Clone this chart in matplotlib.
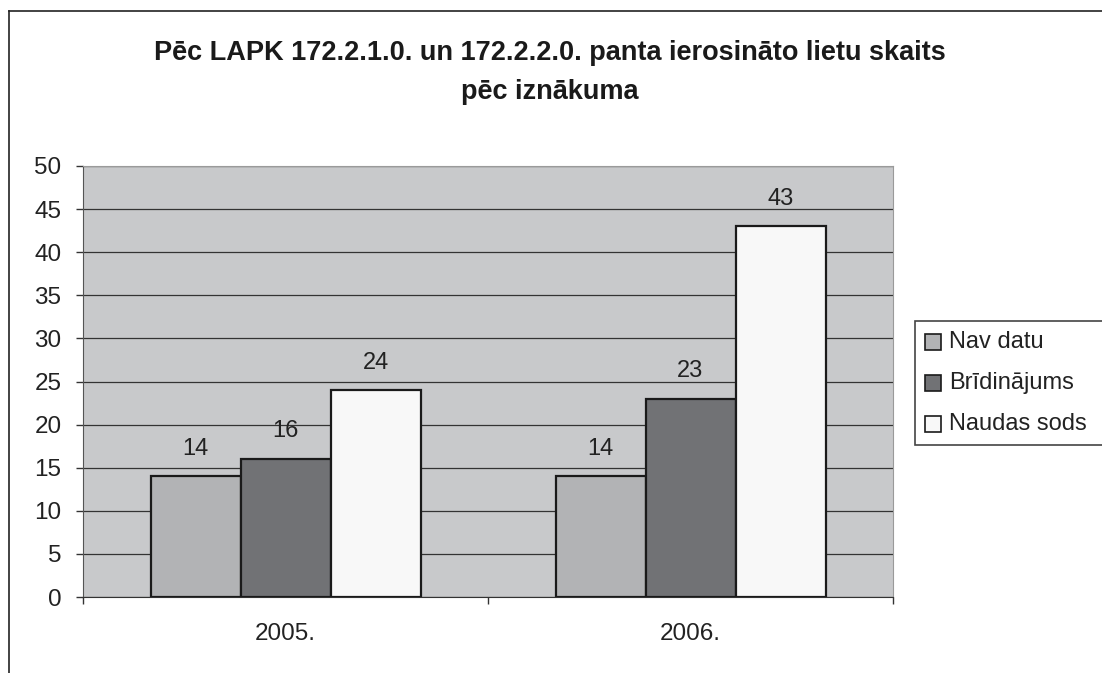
import matplotlib
matplotlib.use("Agg")
import matplotlib.pyplot as plt
import numpy as np
from matplotlib.lines import Line2D
from matplotlib.patches import Rectangle

plt.rcParams['font.family'] = ['Liberation Sans', 'DejaVu Sans']

categories = ["2005.", "2006."]
series_names = ["Nav datu", "Brīdinājums", "Naudas sods"]
values = {
    "Nav datu": [14, 14],
    "Brīdinājums": [16, 23],
    "Naudas sods": [24, 43],
}
colors = ["#B2B3B5", "#717275", "#F8F8F8"]
title = "Pēc LAPK 172.2.1.0. un 172.2.2.0. panta ierosināto lietu skaits\npēc iznākuma"

W, H = 1102, 673
fig = plt.figure(figsize=(W/100, H/100), dpi=100)
ax = fig.add_axes([83/W, 1-597/H, (893-83)/W, (597-166)/H])
ax.set_facecolor("#C8C9CB")

w = 1/4.5
x = np.arange(len(categories))
for i, name in enumerate(series_names):
    pos = x + (i - 1) * w
    ax.bar(pos, values[name], width=w, color=colors[i], edgecolor="#1a1a1a",
           linewidth=1.6, label=name, zorder=3)
    for p, v in zip(pos, values[name]):
        ax.text(p, v + 3.2, str(v), ha="center", va="center", fontsize=17, color="#222222")

ax.set_xlim(-0.5, 1.5)
ax.set_ylim(0, 50)
ax.set_yticks(range(0, 51, 5))
ax.yaxis.grid(True, color="#333333", linewidth=0.9, zorder=0)
ax.set_axisbelow(True)
for s in ["top", "right"]:
    ax.spines[s].set_color("#9a9a9a")
ax.spines["left"].set_color("#555555")
ax.spines["bottom"].set_color("#333333")
ax.tick_params(axis="y", length=5, width=1, color="#333333", labelsize=17.5, pad=10.5, labelcolor="#222222")
ax.set_xticks([-0.5, 0.5, 1.5])
ax.set_xticklabels(["", "", ""])
ax.tick_params(axis="x", length=5, width=1, color="#333333", direction="out")
for xi, c in zip(x, categories):
    ax.text(xi, -4.3, c, ha="center", va="center", fontsize=17.5, color="#222222")

fig.text(550/W, 1-72.5/H, title, ha="center", va="center", fontsize=19.5,
         fontweight="bold", color="#1a1a1a", linespacing=1.65)

# legend (frame runs past the right edge of the image, as in the reference)
fig.add_artist(Rectangle((915/W, 1-445/H), (1120-915)/W, (445-321)/H, transform=fig.transFigure,
                         facecolor="white", edgecolor="#444444", linewidth=1.2))
row_y = [342, 383, 424]
for c, name, ry in zip(colors, series_names, row_y):
    fig.add_artist(Rectangle((925/W, 1-(ry+8)/H), 16/W, 16/H, transform=fig.transFigure,
                             facecolor=c, edgecolor="#1a1a1a", linewidth=1.2))
    fig.text(949/W, 1-ry/H, name, ha="left", va="center", fontsize=17, color="#222222")

fig.add_artist(Line2D([9/W, 9/W], [0, 1-11/H], color="#222222", linewidth=1.2))
fig.add_artist(Line2D([9/W, 1], [1-11/H, 1-11/H], color="#222222", linewidth=1.2))

fig.savefig("out.png", dpi=100)
